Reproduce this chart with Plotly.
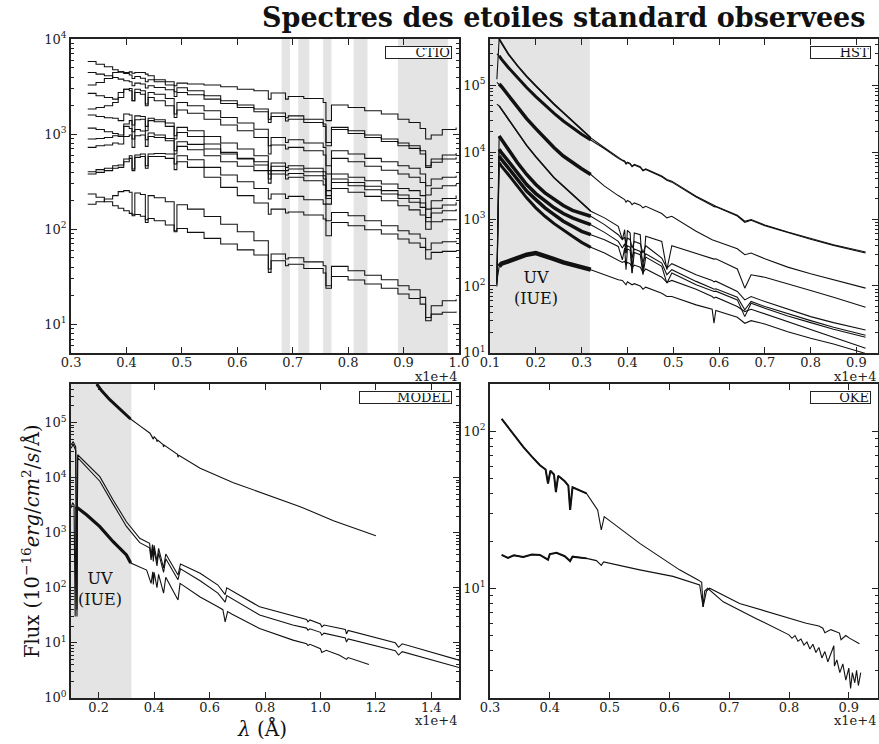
import plotly.graph_objects as go

# ---------------- CTIO (binned spectra, 0.3-1.0 x1e4 A) ----------------
CTIO_WAVE = [3300, 3450, 3600, 3750, 3850, 3950, 4050, 4100, 4150, 4250, 4340, 4390, 4500, 4700,
             4860, 4910, 5100, 5400, 5700, 6000, 6300, 6560, 6610, 6870, 6920, 7200, 7550, 7600,
             7700, 8000, 8300, 8600, 8900, 9100, 9300, 9400, 9500, 9700, 9950]
CTIO_S1 = [3290, 3500, 3860, 4460, 4530, 4460, 4530, 4390, 4460, 4460, 4290, 4120, 3740, 3560, 3230, 3450, 3370, 3290, 3160, 2980, 2870, 2340, 2710, 2340, 2500, 2380, 2160, 1390, 2030, 1910, 1770, 1630, 1440, 1330, 1150, 890, 980, 1120, 1180]
CTIO_S2 = [5830, 5460, 5120, 4760, 4530, 4360, 4190, 3860, 4050, 3890, 3560, 3740, 3560, 3290, 2800, 3080, 2870, 2540, 2250, 2030, 1840, 1440, 1670, 1490, 1560, 1440, 1280, 820, 1180, 1090, 980, 889, 807, 757, 670, 467, 548, 604, 634]
CTIO_S3 = [4460, 4290, 4120, 3960, 3800, 3650, 3560, 3230, 3450, 3370, 3060, 3230, 3110, 2940, 2500, 2750, 2600, 2340, 2110, 1910, 1720, 1330, 1540, 1380, 1440, 1330, 1210, 757, 1120, 1020, 926, 840, 757, 710, 619, 448, 506, 548, 571]
CTIO_S4 = [2690, 2540, 2440, 2340, 2750, 2980, 3030, 2250, 2980, 2870, 2080, 2750, 2640, 2380, 1630, 2160, 1990, 1770, 1500, 1310, 1130, 757, 926, 820, 875, 807, 727, 467, 670, 619, 557, 514, 467, 438, 381, 287, 338, 352, 366]
CTIO_S5 = [1840, 1910, 1990, 2160, 2440, 2980, 2870, 2250, 2750, 2640, 1990, 2440, 2250, 1990, 1500, 1800, 1660, 1440, 1250, 1090, 926, 619, 770, 698, 727, 670, 604, 381, 557, 514, 460, 417, 381, 352, 311, 229, 270, 287, 299]
CTIO_S6 = [1590, 1540, 1490, 1470, 1390, 1630, 1590, 1250, 1560, 1540, 1210, 1470, 1420, 1310, 964, 1180, 1090, 948, 807, 698, 594, 414, 498, 448, 467, 438, 403, 255, 381, 352, 324, 299, 269, 255, 226, 163, 200, 211, 226]
CTIO_S7 = [1160, 1120, 1060, 1020, 980, 1210, 1150, 889, 1120, 1080, 875, 1030, 980, 902, 670, 834, 782, 698, 619, 557, 514, 381, 460, 414, 431, 403, 366, 226, 338, 311, 283, 255, 229, 211, 189, 133, 166, 180, 192]
CTIO_S8 = [889, 902, 926, 964, 948, 1280, 1390, 1060, 1420, 1440, 1090, 1390, 1350, 1210, 889, 1045, 948, 788, 644, 548, 474, 338, 414, 372, 387, 366, 338, 211, 311, 287, 261, 235, 211, 192, 170, 120, 148, 157, 163]
CTIO_S9 = [727, 757, 770, 807, 788, 948, 980, 727, 964, 980, 745, 948, 926, 854, 619, 745, 686, 594, 514, 460, 414, 306, 381, 338, 352, 324, 292, 184, 269, 245, 222, 200, 177, 160, 141, 100, 120, 126, 128]
CTIO_S10 = [403, 424, 438, 467, 474, 548, 594, 431, 604, 619, 467, 619, 628, 619, 486, 594, 539, 448, 372, 316, 269, 208, 235, 211, 222, 204, 184, 123, 150, 139, 123, 109, 96.5, 89, 80.3, 61, 71.6, 74, 75.8]
CTIO_S11 = [381, 397, 414, 438, 448, 514, 557, 414, 571, 583, 438, 583, 583, 557, 424, 514, 448, 352, 276, 226, 189, 144, 163, 148, 152, 141, 128, 85.5, 118, 109, 98.8, 89, 78.9, 71.6, 64.5, 48.6, 57.1, 58.5, 59.5]
CTIO_S12 = [235, 217, 195, 177, 166, 157, 147, 139, 143, 137, 126, 130, 123, 111, 96.5, 102, 92.7, 80.2, 69.9, 60.7, 53.6, 38.2, 46.7, 41.4, 42.8, 38.6, 34.6, 23.9, 31.9, 29.3, 26.6, 23.9, 20.8, 18.7, 16.3, 10.9, 12.8, 13.4, 13.6]
CTIO_S13 = [183, 195, 208, 226, 249, 255, 245, 144, 241, 232, 118, 226, 215, 195, 94, 181, 163, 136, 113, 94, 75.8, 35.2, 54.9, 48.6, 50.2, 45.4, 41.4, 25.5, 40.7, 36.6, 32.9, 29.5, 25.5, 23.1, 19.2, 11.8, 15.7, 17.7, 18.4]
CTIO_TELLURIC = [(6800, 6950), (7100, 7300), (7550, 7700), (8100, 8350), (8900, 9800)]

# ---------------- HST ----------------
HST_WAVE = [1150, 1200, 1250, 1400, 1600, 1800, 2000, 2200, 2400, 2600, 2800, 3000, 3200, 3500, 3800,
            3890, 3940, 3970, 4000, 4060, 4102, 4150, 4280, 4340, 4400, 4750, 4861, 4970, 5500, 5850,
            5890, 5930, 6400, 6563, 6700, 7000, 7500, 8000, 8500, 9200]
HST_S1 = [1.23e5, 4.9e5, 4.27e5, 2.92e5, 1.95e5, 1.35e5, 9.77e4, 7.08e4, 5.19e4, 3.89e4, 2.92e4, 2.24e4, 1.63e4, 1.16e4, 8240, 7600, 7350, 6780, 7100, 6780, 6180, 6550, 6040, 5380, 5640, 4380, 3900, 3680, 2190, 1630, 1570, 1550, 1140, 925, 980, 815, 640, 508, 413, 321]
HST_S2 = [2.92e5, 2.75e5, 2.45e5, 1.84e5, 1.30e5, 9.23e4, 6.76e4, 5.01e4, 3.80e4, 2.92e4, 2.32e4, 1.85e4, 1.52e4, 1.12e4, 8050, 7430, 7180, 6620, 6930, 6620, 6040, 6400, 5900, 5260, 5510, 4280, 3810, 3560, 2140, 1590, 1530, 1520, 1110, 893, 957, 796, 625, 497, 404, 310]
HST_S3 = [1.10e5, 1.04e5, 9.55e4, 7.08e4, 4.62e4, 3.16e4, 2.24e4, 1.59e4, 1.16e4, 8730, 6930, 5640, 4630, 3100, 2240, 2070, 1950, 1780, 1890, 1800, 1640, 1740, 1610, 1470, 1550, 1210, 1040, 1100, 655, 491, 480, 474, 360, 293, 310, 255, 191, 152, 124, 92.7]
HST_S4 = [5.19e4, 4.9e4, 4.37e4, 3.09e4, 1.95e4, 1.26e4, 8530, 5830, 4130, 3100, 2320, 1740, 1310, 1040, 778, 491, 693, 310, 678, 618, 155, 618, 583, 155, 551, 463, 175, 399, 310, 261, 252, 255, 179, 92.7, 147, 135, 106, 85.5, 67.9, 48.1]
HST_S5 = [124, 1.74e4, 1.55e4, 1.10e4, 6930, 4630, 3280, 2460, 1950, 1590, 1350, 1210, 1100, 824, 583, 491, 538, 438, 520, 491, 368, 463, 428, 310, 399, 261, 185, 215, 147, 121, 115, 118, 82.6, 61.9, 69.5, 58.5, 44.9, 34.8, 28.3, 22.0]
HST_S6 = [110, 1.10e4, 9790, 7350, 4910, 3280, 2400, 1850, 1470, 1210, 1040, 925, 824, 632, 463, 368, 428, 310, 399, 381, 261, 356, 328, 225, 303, 220, 147, 175, 117, 92.7, 89.5, 90.6, 67.9, 43.9, 58.5, 49.2, 38.2, 30.3, 24.1, 18.3]
HST_S7 = [104, 8730, 7780, 5830, 3900, 2610, 1950, 1470, 1160, 925, 778, 655, 583, 491, 390, 246, 368, 175, 356, 340, 156, 317, 293, 147, 270, 196, 110, 156, 104, 85.5, 82.6, 83.6, 61.9, 34.8, 55.2, 46.5, 35.6, 28.3, 22.5, 17.1]
HST_S8 = [98.2, 6930, 6180, 4630, 3100, 2070, 1470, 1100, 853, 678, 551, 448, 377, 310, 246, 225, 233, 207, 225, 215, 185, 205, 191, 159, 179, 135, 113, 121, 89.5, 69.5, 65.6, 67.9, 49.2, 41.4, 44.9, 38.2, 29.3, 22.5, 17.5, 11.7]
HST_S9 = [117, 196, 215, 233, 261, 293, 310, 283, 252, 225, 205, 185, 175, 147, 124, 121, 110, 104, 115, 110, 104, 108, 100, 89.5, 95.9, 78, 69.5, 69.5, 52.1, 44.9, 27.7, 42.9, 34.0, 27.7, 30.3, 27.0, 20.7, 16.5, 13.6, 9.8]
HST_UV_BAND = (1000, 3180)

# ---------------- MODEL ----------------
MODEL_W1 = [1930, 2100, 2400, 2770, 3150, 3500, 3850, 3970, 4000, 4080, 4102, 4130, 4320, 4340, 4360, 4840, 4861, 4890, 5660, 6860, 8065, 9270, 10470, 12000]
MODEL_F1 = [5.0e5, 3.8e5, 2.6e5, 1.77e5, 1.16e5, 8.6e4, 6.4e4, 5.0e4, 5.5e4, 5.0e4, 4.5e4, 4.8e4, 4.0e4, 3.6e4, 3.9e4, 2.65e4, 2.35e4, 2.55e4, 1.48e4, 8.1e3, 4.85e3, 2.97e3, 1.65e3, 880]
MODEL_W2 = [1000, 1080, 1170, 1216, 1240, 1560, 2040, 2520, 3000, 3480, 3835, 3890, 3940, 3970, 4000, 4102, 4160, 4340, 4420, 4861, 4950, 5660, 6300, 6563, 6620, 7805, 9000, 9500, 9550, 9620, 10000, 10050, 10130, 10900, 10940, 11000, 12700, 12820, 12950, 15000]
MODEL_F2 = [3.9e4, 4.5e4, 3.6e4, 40, 2.6e4, 1.82e4, 1.04e4, 3930, 1580, 791, 640, 380, 610, 360, 590, 300, 520, 230, 410, 170, 270, 183, 112, 75, 100, 45, 31, 26.5, 24, 26, 22, 19.5, 21, 17.4, 14.5, 16.8, 10.0, 8.3, 9.6, 4.84]
MODEL_F3 = [3.4e4, 4.0e4, 3.1e4, 30, 2.3e4, 1.55e4, 8600, 3300, 1300, 660, 530, 320, 510, 300, 490, 250, 430, 190, 335, 140, 220, 134, 80, 55, 72, 32, 21, 18.5, 17, 18, 15.5, 13.8, 15, 12.2, 10.3, 11.8, 7.2, 6.0, 6.9, 3.57]
MODEL_W4 = [1000, 1060, 1110, 1150, 1180, 1570, 2040, 2520, 3000, 3155, 3730, 3890, 3950, 3970, 4000, 4102, 4160, 4340, 4420, 4861, 4935, 5660, 6300, 6480, 6563, 6650, 6815, 7805, 9010, 9500, 9550, 9620, 10000, 10050, 10210, 10690, 10940, 11000, 11750]
MODEL_F4 = [2800, 3500, 3200, 30, 2970, 2100, 1290, 685, 394, 282, 209, 120, 195, 115, 190, 100, 175, 80, 155, 60, 120, 68, 45, 40, 24, 37, 33, 18.2, 11.2, 9.6, 8.9, 9.4, 7.8, 6.7, 7.3, 5.96, 5.0, 5.4, 4.03]
MODEL_UV_BAND = (1000, 3180)

# ---------------- OKE ----------------
OKE_W1 = [3195, 3300, 3450, 3556, 3700, 3835, 3930, 3970, 4010, 4070, 4102, 4140, 4250, 4310, 4340, 4380, 4614, 4800, 4861, 4910, 5504, 6170, 6480, 6540, 6563, 6590, 6640, 6900, 7454, 7730, 8000, 8050, 8100, 8150, 8200, 8250, 8300, 8350, 8400, 8450, 8500, 8550, 8600, 8650, 8700, 8750, 8760, 8800, 8850, 8900, 8950, 9000, 9030, 9060, 9100, 9130, 9160, 9200]
OKE_F1 = [120, 106, 90, 79.5, 69, 60.8, 57, 46.5, 56, 53, 41, 52, 48, 45, 31.5, 44, 40.2, 31.5, 23.5, 28.6, 19.3, 13.1, 11.3, 10.9, 7.6, 9.6, 10.0, 8.2, 6.4, 5.7, 5.05, 4.8, 5.0, 4.6, 4.75, 4.35, 4.55, 4.1, 4.4, 3.9, 4.2, 3.6, 3.95, 3.4, 3.8, 4.3, 3.2, 3.5, 2.9, 3.3, 2.6, 3.1, 2.3, 2.9, 2.5, 3.0, 2.4, 2.9]
OKE_W2 = [3195, 3300, 3400, 3556, 3700, 3835, 3970, 4000, 4113, 4250, 4340, 4380, 4614, 4780, 4861, 4900, 5504, 6060, 6506, 6563, 6620, 6673, 7174, 7730, 8288, 8500, 8566, 8600, 8700, 8844, 8870, 8950, 9011, 9178]
OKE_F2 = [16.3, 15.6, 16.2, 15.8, 16.4, 16.3, 15.2, 16.5, 16.8, 16.0, 14.9, 15.9, 15.5, 15.0, 14.0, 14.7, 13.1, 11.9, 10.5, 7.6, 9.6, 10.0, 8.0, 6.93, 5.99, 5.75, 5.57, 5.2, 5.45, 5.18, 4.7, 5.0, 4.81, 4.43]

# ---------------- ticks & labels ----------------
CTIO_XTICKS = [3000, 4000, 5000, 6000, 7000, 8000, 9000, 10000]
CTIO_XTEXT = ["0.3", "0.4", "0.5", "0.6", "0.7", "0.8", "0.9", "1.0"]
HST_XTICKS = [1000, 2000, 3000, 4000, 5000, 6000, 7000, 8000, 9000]
HST_XTEXT = ["0.1", "0.2", "0.3", "0.4", "0.5", "0.6", "0.7", "0.8", "0.9"]
MODEL_XTICKS = [2000, 4000, 6000, 8000, 10000, 12000, 14000]
MODEL_XTEXT = ["0.2", "0.4", "0.6", "0.8", "1.0", "1.2", "1.4"]
OKE_XTICKS = [3000, 4000, 5000, 6000, 7000, 8000, 9000]
OKE_XTEXT = ["0.3", "0.4", "0.5", "0.6", "0.7", "0.8", "0.9"]
CTIO_YTICKS = [10, 100, 1000, 10000]
CTIO_YTEXT = ["10<sup>1</sup>", "10<sup>2</sup>", "10<sup>3</sup>", "10<sup>4</sup>"]
HST_YTICKS = [10, 100, 1000, 10000, 100000]
HST_YTEXT = ["10<sup>1</sup>", "10<sup>2</sup>", "10<sup>3</sup>", "10<sup>4</sup>", "10<sup>5</sup>"]
MODEL_YTICKS = [1, 10, 100, 1000, 10000, 100000]
MODEL_YTEXT = ["10<sup>0</sup>", "10<sup>1</sup>", "10<sup>2</sup>", "10<sup>3</sup>", "10<sup>4</sup>", "10<sup>5</sup>"]
OKE_YTICKS = [10, 100]
OKE_YTEXT = ["10<sup>1</sup>", "10<sup>2</sup>"]

TITLE = "Spectres des etoiles standard observees"
PANEL_NAMES = ["CTIO", "HST", "MODEL", "OKE"]

# ---------------- figure ----------------
FW, FH = 879, 744
INK = "#111111"
SERIF = "DejaVu Serif"
SHADE = "#e4e4e4"


def PX(p):
    return p / FW


def PY(p):
    return 1 - p / FH


fig = go.Figure()


def add_line(xs, ys, xa, ya, width=1.0, shape="linear"):
    fig.add_trace(go.Scatter(x=xs, y=ys, mode="lines", xaxis=xa, yaxis=ya,
                             line=dict(color=INK, width=width, shape=shape),
                             hoverinfo="skip", showlegend=False))


def add_band(xs, ys, lo, hi, xa, ya, width):
    sx = [w for w in xs if lo <= w <= hi]
    sy = [f for w, f in zip(xs, ys) if lo <= w <= hi]
    add_line(sx, sy, xa, ya, width)


for s in [CTIO_S1, CTIO_S2, CTIO_S3, CTIO_S4, CTIO_S5, CTIO_S6, CTIO_S7,
          CTIO_S8, CTIO_S9, CTIO_S10, CTIO_S11, CTIO_S12, CTIO_S13]:
    add_line(CTIO_WAVE, s, "x", "y", 1.05, "hv")

hst_series = [HST_S1, HST_S2, HST_S3, HST_S4, HST_S5, HST_S6, HST_S7, HST_S8, HST_S9]
hst_uv_width = [1.8, 3.0, 3.5, 1.6, 3.5, 3.5, 3.5, 3.0, 4.5]
for s, uw in zip(hst_series, hst_uv_width):
    add_line(HST_WAVE, s, "x2", "y2", 1.1)
    add_band(HST_WAVE, s, 1200, 3200, "x2", "y2", uw)

add_line(MODEL_W1, MODEL_F1, "x3", "y3", 1.1)
add_band(MODEL_W1, MODEL_F1, 1000, 3200, "x3", "y3", 3.0)
add_line(MODEL_W2, MODEL_F2, "x3", "y3", 1.1)
add_line(MODEL_W2, MODEL_F3, "x3", "y3", 1.1)
add_line(MODEL_W4, MODEL_F4, "x3", "y3", 1.1)
add_band(MODEL_W4, MODEL_F4, 1170, 3200, "x3", "y3", 3.2)

add_line(OKE_W1, OKE_F1, "x4", "y4", 1.1)
add_band(OKE_W1, OKE_F1, 3000, 4700, "x4", "y4", 2.0)
add_line(OKE_W2, OKE_F2, "x4", "y4", 1.1)
add_band(OKE_W2, OKE_F2, 3000, 4650, "x4", "y4", 2.0)

# shaded bands
shapes = []
for lo, hi in CTIO_TELLURIC:
    shapes.append(dict(type="rect", xref="x", yref="y domain", x0=lo, x1=hi, y0=0, y1=1,
                       fillcolor=SHADE, line=dict(width=0), layer="below"))
shapes.append(dict(type="rect", xref="x2", yref="y2 domain", x0=HST_UV_BAND[0], x1=HST_UV_BAND[1],
                   y0=0, y1=1, fillcolor=SHADE, line=dict(width=0), layer="below"))
shapes.append(dict(type="rect", xref="x3", yref="y3 domain", x0=MODEL_UV_BAND[0], x1=MODEL_UV_BAND[1],
                   y0=0, y1=1, fillcolor=SHADE, line=dict(width=0), layer="below"))


def minor_vals(e0, e1):
    return [k * 10 ** e for e in range(e0, e1 + 1) for k in range(2, 10)]


tickfont = dict(family=SERIF, size=13, color="#222")
base = dict(showline=True, linecolor="#222", linewidth=1.5, mirror="allticks",
            ticks="inside", ticklen=6, tickwidth=1, tickcolor="#222", automargin=False,
            showgrid=False, zeroline=False, tickfont=tickfont)


def xax(domain, rng, tv, tt, anchor):
    d = dict(base)
    d.update(domain=domain, range=rng, tickmode="array", tickvals=tv, ticktext=tt, anchor=anchor,
             ticklabelstandoff=-3)
    return d


def yax(domain, rng, tv, tt, anchor, e0, e1):
    d = dict(base)
    d.update(domain=domain, type="log", range=rng, tickmode="array", tickvals=tv, ticktext=tt,
             anchor=anchor,
             minor=dict(ticks="inside", ticklen=3, tickwidth=1, tickcolor="#222",
                        tickmode="array", tickvals=minor_vals(e0, e1), showgrid=False))
    return d


xl = [PX(71), PX(459)]
xr = [PX(490), PX(877.5)]
yt = [PY(353), PY(39)]
yb = [PY(698), PY(384)]

fig.update_layout(
    width=FW, height=FH, margin=dict(l=0, r=0, t=0, b=0, pad=0), autosize=False,
    paper_bgcolor="white", plot_bgcolor="white", showlegend=False,
    font=dict(family=SERIF, color="#222"),
    xaxis=xax(xl, [2998, 10002], CTIO_XTICKS, CTIO_XTEXT, "y"),
    yaxis=yax(yt, [0.698, 4.002], CTIO_YTICKS, CTIO_YTEXT, "x", 0, 3),
    xaxis2=xax(xr, [1000, 9460], HST_XTICKS, HST_XTEXT, "y2"),
    yaxis2=yax(yt, [0.998, 5.69], HST_YTICKS, HST_YTEXT, "x2", 1, 5),
    xaxis3=xax(xl, [1000, 15000], MODEL_XTICKS, MODEL_XTEXT, "y3"),
    yaxis3=yax(yb, [-0.002, 5.7], MODEL_YTICKS, MODEL_YTEXT, "x3", 0, 5),
    xaxis4=xax(xr, [3000, 9480], OKE_XTICKS, OKE_XTEXT, "y4"),
    yaxis4=yax(yb, [0.301, 2.301], OKE_YTICKS, OKE_YTEXT, "x4", 0, 2),
    shapes=shapes,
)

ann = []
ann.append(dict(text="<b>" + TITLE + "</b>", x=PX(564), y=PY(18), xref="paper", yref="paper",
                xanchor="center", yanchor="middle", showarrow=False,
                font=dict(family=SERIF, size=27, color="#111")))
# panel label boxes (right-aligned text in a framed box)
boxes = [(452, 45.5, 63), (871, 45.5, 57), (452, 391, 89), (871, 391, 57)]
for name, (xr_px, yt_px, w) in zip(PANEL_NAMES, boxes):
    ann.append(dict(text=name, x=PX(xr_px), y=PY(yt_px), xref="paper", yref="paper",
                    xanchor="right", yanchor="top", showarrow=False, width=w, height=9,
                    align="right", valign="middle", bordercolor="#222", borderwidth=1, borderpad=1,
                    bgcolor="white", font=dict(family=SERIF, size=13, color="#111")))
# x1e+4 multipliers
for xp, yp in [(459, 376), (878, 376), (459, 720), (878, 720)]:
    ann.append(dict(text="x1e+4", x=PX(xp), y=PY(yp), xref="paper", yref="paper",
                    xanchor="right", yanchor="middle", showarrow=False,
                    font=dict(family=SERIF, size=13, color="#222")))
# UV (IUE) notes
for xp, yp in [(536, 288), (100, 589)]:
    ann.append(dict(text="UV<br>(IUE)", x=PX(xp), y=PY(yp), xref="paper", yref="paper",
                    xanchor="center", yanchor="middle", showarrow=False,
                    font=dict(family=SERIF, size=16, color="#111")))
# axis titles
ann.append(dict(text="Flux (10<sup>\u221216</sup><i>erg</i>/<i>cm</i><sup>2</sup>/<i>s</i>/\u00c5)",
                x=PX(31), y=PY(541), xref="paper", yref="paper", textangle=-90,
                xanchor="center", yanchor="middle", showarrow=False,
                font=dict(family=SERIF, size=19.5, color="#111")))
ann.append(dict(text="<i>\u03bb</i> (\u00c5)", x=PX(262), y=PY(728), xref="paper", yref="paper",
                xanchor="center", yanchor="middle", showarrow=False,
                font=dict(family=SERIF, size=20, color="#111")))
fig.update_layout(annotations=ann)

# the page body margin would shift and crop the 879x744 figure; remove it
fig.write_html("out.html", config={"displayModeBar": False},
               post_script="document.body.style.margin='0';document.body.style.overflow='hidden';")
